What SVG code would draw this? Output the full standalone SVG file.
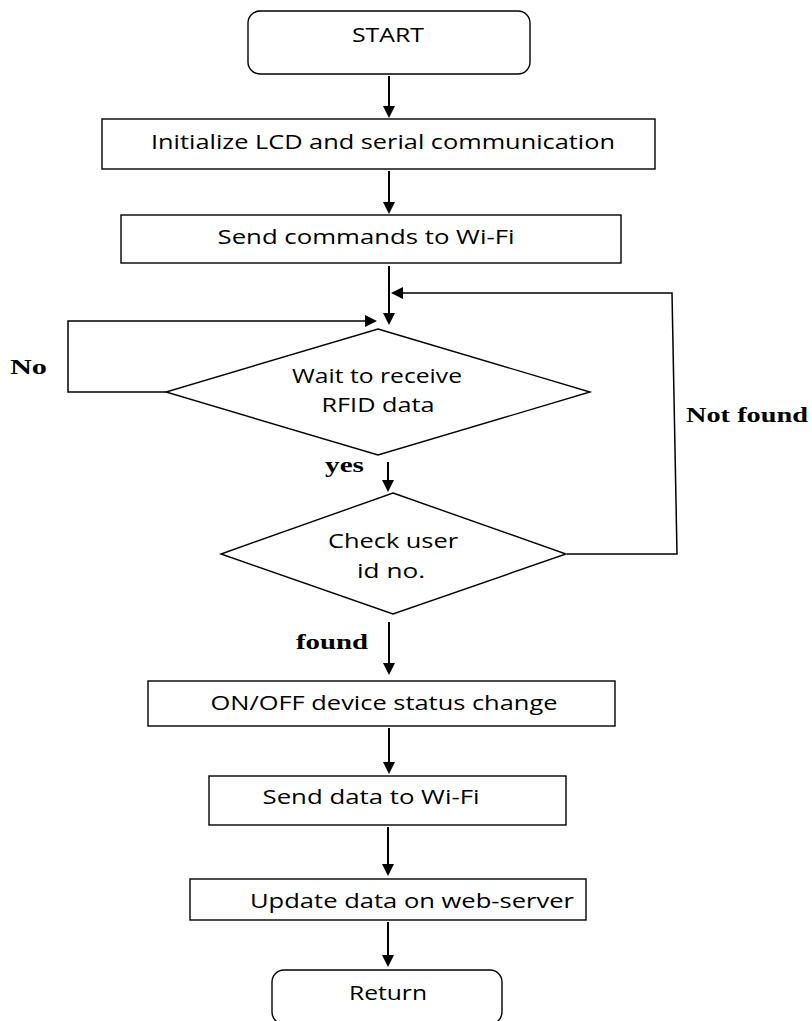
<svg xmlns="http://www.w3.org/2000/svg" width="812" height="1021" viewBox="0 0 812 1021">
<defs>
<style>
.box{fill:#fff;stroke:#000;stroke-width:1.4}
.t{font-family:"Open Sans","Noto Sans",sans-serif;font-size:20px;fill:#000;text-anchor:middle}
.lb{font-family:"Liberation Serif","Times New Roman",serif;font-size:21px;font-weight:bold;fill:#000}
.c{fill:none;stroke:#000;stroke-width:2}
.c1{fill:none;stroke:#000;stroke-width:1.5}
</style>
<marker id="ah" viewBox="0 0 12 12" refX="10" refY="6" markerWidth="12" markerHeight="12" markerUnits="userSpaceOnUse" orient="auto">
<path d="M0,0 L12,6 L0,12 z" fill="#000"/>
</marker>
</defs>
<rect width="812" height="1021" fill="#fff"/>
<g id="connectors">
<line class="c" x1="389" y1="76" x2="389" y2="116" marker-end="url(#ah)"/>
<line class="c" x1="389" y1="171" x2="389" y2="212" marker-end="url(#ah)"/>
<line class="c" x1="389" y1="266" x2="389" y2="323" marker-end="url(#ah)"/>
<polyline class="c1" points="567,554 677,554 672,293 393,293" marker-end="url(#ah)"/>
<polyline class="c1" points="166,392 68,392 68,321 375,321" marker-end="url(#ah)"/>
<line class="c" x1="388" y1="462" x2="388" y2="490" marker-end="url(#ah)"/>
<line class="c" x1="389" y1="622" x2="389" y2="673" marker-end="url(#ah)"/>
<line class="c" x1="389" y1="728" x2="389" y2="772" marker-end="url(#ah)"/>
<line class="c" x1="388" y1="827" x2="388" y2="874" marker-end="url(#ah)"/>
<line class="c" x1="388" y1="922" x2="388" y2="965" marker-end="url(#ah)"/>
<text class="lb" x="10" y="374" textLength="37" lengthAdjust="spacingAndGlyphs">No</text>
<text class="lb" x="686" y="422" textLength="122" lengthAdjust="spacingAndGlyphs">Not found</text>
<text class="lb" x="325" y="472" textLength="39" lengthAdjust="spacingAndGlyphs">yes</text>
<text class="lb" x="296" y="649" textLength="72" lengthAdjust="spacingAndGlyphs">found</text>
</g>
<g id="start">
<rect class="box" x="248" y="11" width="282" height="63" rx="12"/>
<text class="t" x="388" y="42" textLength="72" lengthAdjust="spacingAndGlyphs">START</text>
</g>
<g id="init">
<rect class="box" x="102" y="119" width="553" height="50"/>
<text class="t" x="383" y="149" textLength="464" lengthAdjust="spacingAndGlyphs">Initialize LCD and serial communication</text>
</g>
<g id="sendcmd">
<rect class="box" x="121" y="215" width="500" height="48"/>
<text class="t" x="366" y="244" textLength="297" lengthAdjust="spacingAndGlyphs">Send commands to Wi-Fi</text>
</g>
<g id="wait">
<polygon class="box" points="378,329 590,392 378,455 166,392"/>
<text class="t" x="377" y="383" textLength="170" lengthAdjust="spacingAndGlyphs">Wait to receive</text>
<text class="t" x="378" y="412" textLength="113" lengthAdjust="spacingAndGlyphs">RFID data</text>
</g>
<g id="check">
<polygon class="box" points="393,493 566,554 393,614 221,554"/>
<text class="t" x="393" y="548" textLength="130" lengthAdjust="spacingAndGlyphs">Check user</text>
<text class="t" x="391" y="578" textLength="68" lengthAdjust="spacingAndGlyphs">id no.</text>
</g>
<g id="onoff">
<rect class="box" x="148" y="681" width="467" height="45"/>
<text class="t" x="384" y="710" textLength="347" lengthAdjust="spacingAndGlyphs">ON/OFF device status change</text>
</g>
<g id="senddata">
<rect class="box" x="209" y="776" width="357" height="49"/>
<text class="t" x="371" y="804" textLength="217" lengthAdjust="spacingAndGlyphs">Send data to Wi-Fi</text>
</g>
<g id="update">
<rect class="box" x="190" y="879" width="396" height="41"/>
<text class="t" x="412" y="908" textLength="324" lengthAdjust="spacingAndGlyphs">Update data on web-server</text>
</g>
<g id="return">
<rect class="box" x="272" y="970" width="230" height="54" rx="12"/>
<text class="t" x="388" y="1000" textLength="78" lengthAdjust="spacingAndGlyphs">Return</text>
</g>
</svg>
